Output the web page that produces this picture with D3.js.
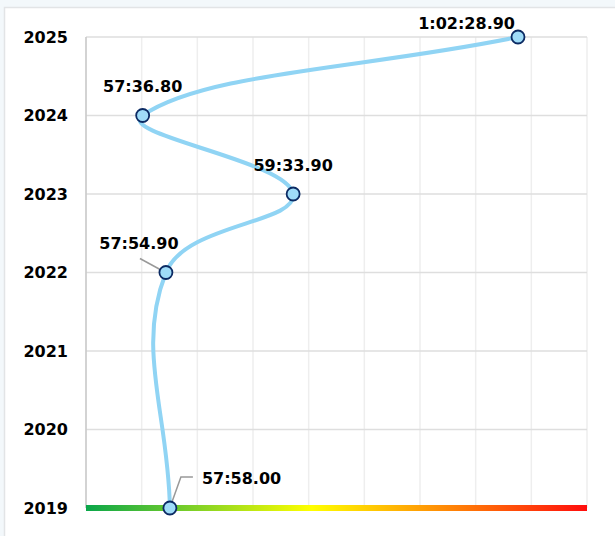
<!DOCTYPE html>
<html>
<head>
<meta charset="utf-8">
<script src="https://cdn.jsdelivr.net/npm/d3@7"></script>
<style>
  html, body { margin: 0; padding: 0; background: #f3f8fb; }
  svg { display: block; }
  text { font-family: "DejaVu Sans", sans-serif; font-weight: bold; }
</style>
</head>
<body>
<svg id="chart"></svg>
<script>
let svgWidth = 615
let svgHeight = 536

// data
let years = [2019, 2022, 2023, 2024, 2025]
let times = ["57:58.00", "57:54.90", "59:33.90", "57:36.80", "1:02:28.90"]
let yearTicks = [2019, 2020, 2021, 2022, 2023, 2024, 2025]
// where each label sits relative to its point
let labelPlace = ["right-leader", "left-leader", "top", "top", "top-left"]

function toSeconds(s){
    let parts = s.split(':').map(Number)
    let sec = 0
    parts.forEach(function(p){ sec = sec * 60 + p })
    return sec
}

let points = years.map(function(y, i){
    return { year: y, label: times[i], sec: toSeconds(times[i]), place: labelPlace[i] }
})

let plot = { left: 86, right: 587, top: 37, bottom: 508 }

let xScale = d3.scaleLinear()
    .domain([3412.7, 3802.6])
    .range([plot.left, plot.right])

let yScale = d3.scaleLinear()
    .domain([2019, 2025])
    .range([plot.bottom, plot.top])

let svg = d3.select('#chart')
    .attr('width', svgWidth)
    .attr('height', svgHeight)

// card behind the chart
svg.append('rect')
    .attr('x', 4.5).attr('y', 7.5)
    .attr('width', svgWidth + 20).attr('height', svgHeight + 20)
    .attr('fill', '#fff')
    .attr('stroke', '#e2e4e6')
    .attr('stroke-width', 1.5)

let g = svg.append('g')

// vertical grid
let xTicks = d3.range(10).map(function(i){
    let d = xScale.domain()
    return d[0] + i * (d[1] - d[0]) / 9
})
g.selectAll('.vgrid').data(xTicks)
    .enter()
    .append('line')
    .attr('class', 'vgrid')
    .attr('x1', d => xScale(d)).attr('x2', d => xScale(d))
    .attr('y1', plot.top).attr('y2', plot.bottom)
    .attr('stroke', '#eeeeee')
    .attr('stroke-width', 1.5)

// horizontal grid
g.selectAll('.hgrid').data(yearTicks)
    .enter()
    .append('line')
    .attr('class', 'hgrid')
    .attr('x1', plot.left).attr('x2', plot.right)
    .attr('y1', d => yScale(d)).attr('y2', d => yScale(d))
    .attr('stroke', '#dedede')
    .attr('stroke-width', 1.5)

// left axis line
g.append('line')
    .attr('x1', plot.left).attr('x2', plot.left)
    .attr('y1', plot.top).attr('y2', plot.bottom)
    .attr('stroke', '#c8c8c8')
    .attr('stroke-width', 1.5)

// year labels
g.selectAll('.ylabel').data(yearTicks)
    .enter()
    .append('text')
    .attr('class', 'ylabel')
    .attr('x', 68)
    .attr('y', d => yScale(d))
    .attr('dy', '0.36em')
    .attr('text-anchor', 'end')
    .attr('font-size', 16)
    .attr('fill', '#000')
    .text(d => d)

// gradient baseline at 2019
let defs = svg.append('defs')
let grad = defs.append('linearGradient')
    .attr('id', 'baseGrad')
    .attr('x1', '0%').attr('x2', '100%')
    .attr('y1', '0%').attr('y2', '0%')
grad.append('stop').attr('offset', '0%').attr('stop-color', '#0aa64a')
grad.append('stop').attr('offset', '45%').attr('stop-color', '#ffff00')
grad.append('stop').attr('offset', '100%').attr('stop-color', '#ff0d0d')

g.append('rect')
    .attr('x', plot.left)
    .attr('y', yScale(2019) - 3)
    .attr('width', plot.right - plot.left)
    .attr('height', 6)
    .attr('fill', 'url(#baseGrad)')

// smooth line, spline control points with tension 0.4
let px = points.map(d => [xScale(d.sec), yScale(d.year)])
let tension = 0.4
let ctrl = px.map(function(cur, i){
    let prev = px[i - 1] || cur
    let next = px[i + 1] || cur
    let d01 = Math.hypot(cur[0] - prev[0], cur[1] - prev[1])
    let d12 = Math.hypot(next[0] - cur[0], next[1] - cur[1])
    let s01 = d01 / (d01 + d12) || 0
    let s12 = d12 / (d01 + d12) || 0
    let fa = tension * s01
    let fb = tension * s12
    return {
        prev: [cur[0] - fa * (next[0] - prev[0]), cur[1] - fa * (next[1] - prev[1])],
        next: [cur[0] + fb * (next[0] - prev[0]), cur[1] + fb * (next[1] - prev[1])]
    }
})
let path = d3.path()
path.moveTo(px[0][0], px[0][1])
for (let i = 1; i < px.length; i++){
    path.bezierCurveTo(ctrl[i-1].next[0], ctrl[i-1].next[1], ctrl[i].prev[0], ctrl[i].prev[1], px[i][0], px[i][1])
}
g.append('path')
    .attr('d', path.toString())
    .attr('fill', 'none')
    .attr('stroke', '#90d4f4')
    .attr('stroke-width', 4)

// leader lines
points.forEach(function(d){
    let x = xScale(d.sec), y = yScale(d.year)
    if (d.place == 'left-leader'){
        g.append('line')
            .attr('x1', x - 4).attr('y1', y - 2)
            .attr('x2', x - 26).attr('y2', y - 14)
            .attr('stroke', '#999').attr('stroke-width', 1.5)
    } else if (d.place == 'right-leader'){
        g.append('polyline')
            .attr('points', [[x + 1, y - 3], [x + 11, y - 31], [x + 23, y - 31]].join(' '))
            .attr('fill', 'none')
            .attr('stroke', '#999').attr('stroke-width', 1.5)
    }
})

// points
g.selectAll('.pt').data(points)
    .enter()
    .append('circle')
    .attr('class', 'pt')
    .attr('cx', d => xScale(d.sec))
    .attr('cy', d => yScale(d.year))
    .attr('r', 6.5)
    .attr('fill', '#9fdcf8')
    .attr('stroke', '#0b2a63')
    .attr('stroke-width', 1.8)

// value labels
g.selectAll('.vlabel').data(points)
    .enter()
    .append('text')
    .attr('class', 'vlabel')
    .attr('font-size', 16)
    .attr('fill', '#000')
    .attr('dy', '0.36em')
    .attr('x', function(d){
        let x = xScale(d.sec)
        if (d.place == 'right-leader') return x + 32
        if (d.place == 'left-leader') return x - 27
        if (d.place == 'top-left') return x - 3
        return x
    })
    .attr('y', function(d){
        let y = yScale(d.year)
        if (d.place == 'right-leader') return y - 30
        if (d.place == 'left-leader') return y - 29
        if (d.place == 'top-left') return y - 14
        return y - 29
    })
    .attr('text-anchor', function(d){
        if (d.place == 'right-leader') return 'start'
        if (d.place == 'top-left') return 'end'
        return 'middle'
    })
    .text(d => d.label)
</script>
</body>
</html>
